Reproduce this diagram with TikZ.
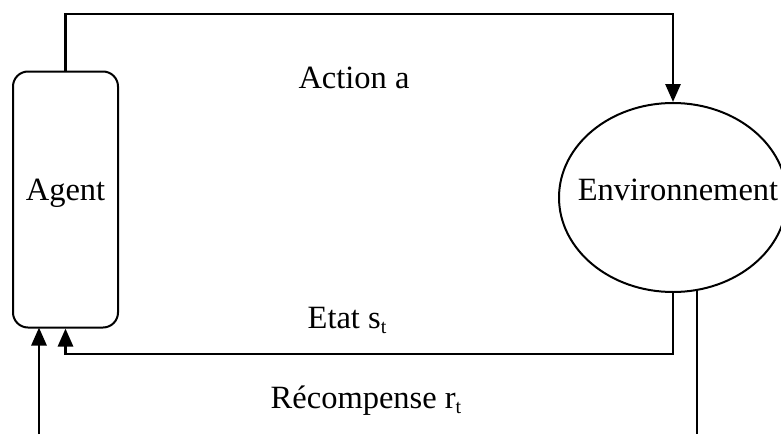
\documentclass[tikz,border=0pt]{standalone}
\usepackage{fontspec}
\setmainfont{Liberation Serif}
\usetikzlibrary{shapes.geometric,arrows.meta}
\begin{document}
\begin{tikzpicture}[x=1pt,y=-1pt,
  txt/.style={font=\fontsize{32.5}{39}\selectfont, inner sep=0pt, anchor=base},
  flow/.style={line width=2.8pt, -{Triangle[length=18pt,width=15pt]}},
  plainflow/.style={line width=2.8pt},
  agentbox/.style={draw, line width=2pt, rounded corners=15pt, minimum width=105pt, minimum height=256pt, inner sep=0pt},
  envshape/.style={draw, line width=2pt, ellipse, minimum width=228pt, minimum height=189pt, inner sep=0pt}]
\useasboundingbox (0,0) rectangle (781,434);
\clip (0,0) rectangle (781,434);
\fill[white] (0,0) rectangle (781,434);

% the two blocks
\node[agentbox] (agent) at (65.5,199.5) {};
\node[envshape] (env) at (673,197.5) {};
\node[txt] (agentlbl) at (65.5,200) {Agent};
\node[txt] (envlbl) at (678,200) {Environnement};

% action: from the agent over the top into the environment
\coordinate (atl) at (agent.north |- 0,14);
\coordinate (atr) at (env.north |- 0,14);
\draw[flow] (agent.north) -- (atl) -- (atr) -- (env.north);
\node[txt] (actlbl) at (354,88) {Action a};

% state: from the environment back under to the agent
\coordinate (sbr) at (env.south |- 0,354);
\coordinate (sbl) at (agent.south |- 0,354);
\draw[flow] (env.south) -- (sbr) -- (sbl) -- (agent.south);
\node[txt] (statelbl) at (347,328) {Etat s\raisebox{-0.18em}{\fontsize{20}{20}\selectfont t}};

% reward
\coordinate (rtop) at (697,290);
\coordinate (rbot) at (697,434);
\coordinate (rin) at (39,434);
\coordinate (rtip) at (39,327.5);
\draw[plainflow] (rtop) -- (rbot);
\draw[flow] (rin) -- (rtip);
\node[txt] (rewlbl) at (366,408) {Récompense r\raisebox{-0.18em}{\fontsize{20}{20}\selectfont t}};
\end{tikzpicture}
\end{document}
